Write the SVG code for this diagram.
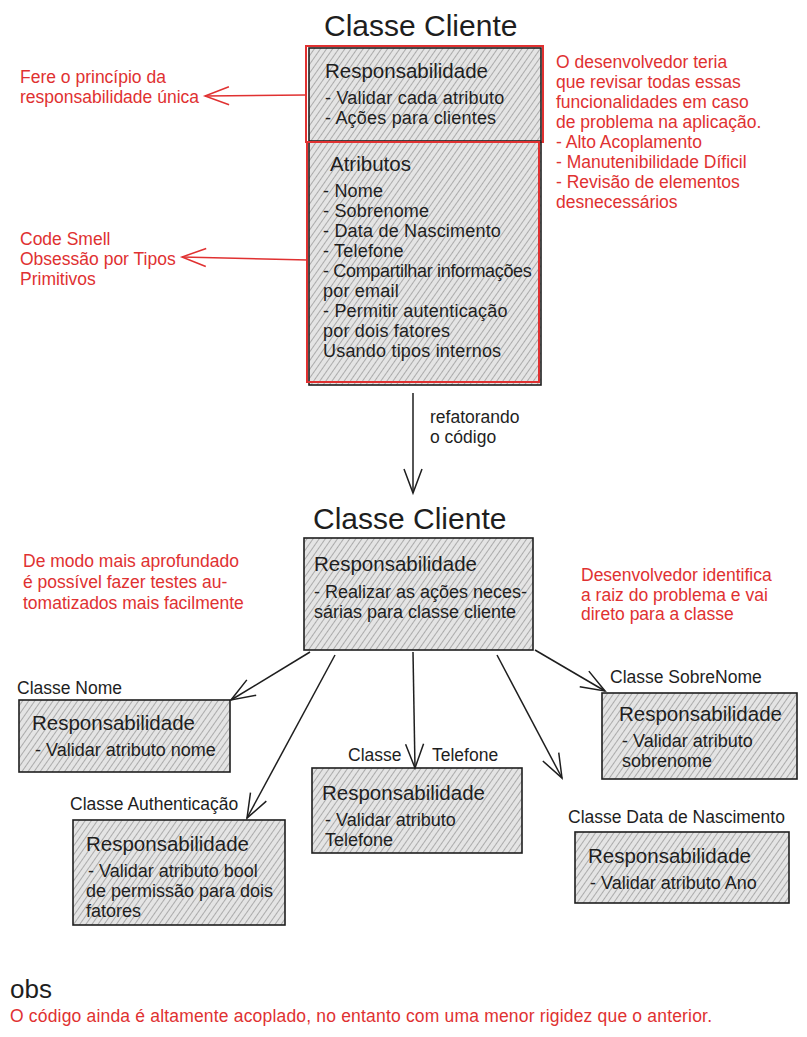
<svg xmlns="http://www.w3.org/2000/svg" width="807" height="1037" viewBox="0 0 807 1037">
<defs>
<pattern id="hatch" width="5" height="5" patternUnits="userSpaceOnUse" patternTransform="rotate(35)">
<rect width="5" height="5" fill="#e4e4e4"/>
<line x1="0" y1="0" x2="0" y2="5" stroke="#7c7c7c" stroke-width="1.1"/>
</pattern>
<marker id="ab" markerUnits="userSpaceOnUse" markerWidth="30" markerHeight="24" refX="25" refY="10" orient="auto">
<path d="M1,1 L25,10 L1,19" fill="none" stroke="#1e1e1e" stroke-width="1.5"/>
</marker>
<marker id="ar" markerUnits="userSpaceOnUse" markerWidth="30" markerHeight="24" refX="25" refY="10" orient="auto">
<path d="M1,1 L25,10 L1,19" fill="none" stroke="#e03131" stroke-width="1.5"/>
</marker>
</defs>
<style>
text{font-family:"Liberation Sans",Arial,sans-serif;fill:#1e1e1e}
.t{font-size:30px}
.h{font-size:20.5px}
.b{font-size:18px;letter-spacing:0.2px}
.l{font-size:17.5px}
.s{font-size:18px}
.r{fill:#e03131;font-size:17.5px}
.box{fill:url(#hatch);stroke:#1e1e1e;stroke-width:1.6}
.red{fill:none;stroke:#e03131;stroke-width:2}
.c{fill:none;stroke:#1e1e1e;stroke-width:1.5}
.cr{fill:none;stroke:#e03131;stroke-width:1.5}
</style>
<rect width="807" height="1037" fill="#ffffff"/>

<g id="top-class">
<text class="t" x="324" y="36">Classe Cliente</text>
<rect class="box" x="309" y="48" width="232" height="93"/>
<rect class="red" x="306" y="46" width="237" height="96"/>
<text class="h" x="325" y="78">Responsabilidade</text>
<text class="b" x="325" y="104">- Validar cada atributo</text>
<text class="b" x="325" y="124">- Ações para clientes</text>
<rect class="box" x="309" y="142" width="232" height="243"/>
<rect class="red" x="307" y="142" width="232" height="240"/>
<text class="h" x="330" y="171">Atributos</text>
<text class="b" x="323" y="197">- Nome</text>
<text class="b" x="323" y="217">- Sobrenome</text>
<text class="b" x="323" y="237">- Data de Nascimento</text>
<text class="b" x="323" y="257">- Telefone</text>
<text class="b" x="323" y="277" textLength="209">- Compartilhar informações</text>
<text class="b" x="323" y="297">por email</text>
<text class="b" x="323" y="317">- Permitir autenticação</text>
<text class="b" x="323" y="337">por dois fatores</text>
<text class="b" x="323" y="357">Usando tipos internos</text>
</g>

<g id="note-srp">
<text class="r" x="20" y="83">Fere o princípio da</text>
<text class="r" x="20" y="103">responsabilidade única</text>
</g>
<g id="note-smell">
<text class="r" x="20" y="245">Code Smell</text>
<text class="r" x="20" y="265">Obsessão por Tipos</text>
<text class="r" x="20" y="285">Primitivos</text>
</g>
<g id="note-dev">
<text class="r" x="556" y="68">O desenvolvedor teria</text>
<text class="r" x="556" y="88">que revisar todas essas</text>
<text class="r" x="556" y="108">funcionalidades em caso</text>
<text class="r" x="556" y="128">de problema na aplicação.</text>
<text class="r" x="556" y="148">- Alto Acoplamento</text>
<text class="r" x="556" y="168">- Manutenibilidade Díficil</text>
<text class="r" x="556" y="188">- Revisão de elementos</text>
<text class="r" x="556" y="208">desnecessários</text>
</g>

<g id="refactor-label">
<text class="l" x="430" y="423">refatorando</text>
<text class="l" x="430" y="443">o código</text>
</g>

<g id="main-class">
<text class="t" x="313" y="529">Classe Cliente</text>
<rect class="box" x="304" y="538" width="229" height="112"/>
<text class="h" x="314" y="571">Responsabilidade</text>
<text class="s" x="314" y="598">- Realizar as ações neces-</text>
<text class="s" x="314" y="618">sárias para classe cliente</text>
</g>

<g id="note-tests">
<text class="r" x="23" y="567">De modo mais aprofundado</text>
<text class="r" x="23" y="588">é possível fazer testes au-</text>
<text class="r" x="23" y="609">tomatizados mais facilmente</text>
</g>
<g id="note-root">
<text class="r" x="581" y="581">Desenvolvedor identifica</text>
<text class="r" x="581" y="601">a raiz do problema e vai</text>
<text class="r" x="581" y="620">direto para a classe</text>
</g>

<g id="classe-nome">
<text class="l" x="17" y="694">Classe Nome</text>
<rect class="box" x="19" y="700" width="211" height="72"/>
<text class="h" x="32" y="730">Responsabilidade</text>
<text class="s" x="35" y="756">- Validar atributo nome</text>
</g>

<g id="classe-sobrenome">
<text class="l" x="610" y="683">Classe SobreNome</text>
<rect class="box" x="602" y="693" width="195" height="86"/>
<text class="h" x="619" y="721">Responsabilidade</text>
<text class="s" x="622" y="747">- Validar atributo</text>
<text class="s" x="622" y="767">sobrenome</text>
</g>

<g id="classe-telefone">
<text class="l" x="348" y="761">Classe</text>
<text class="l" x="432" y="761">Telefone</text>
<rect class="box" x="312" y="768" width="210" height="85"/>
<text class="h" x="322" y="800">Responsabilidade</text>
<text class="s" x="325" y="826">- Validar atributo</text>
<text class="s" x="325" y="846">Telefone</text>
</g>

<g id="classe-auth">
<text class="l" x="70" y="810">Classe Authenticação</text>
<rect class="box" x="73" y="820" width="212" height="105"/>
<text class="h" x="86" y="851">Responsabilidade</text>
<text class="s" x="88" y="877">- Validar atributo bool</text>
<text class="s" x="86" y="897">de permissão para dois</text>
<text class="s" x="86" y="917">fatores</text>
</g>

<g id="classe-data">
<text class="l" x="568" y="823">Classe Data de Nascimento</text>
<rect class="box" x="575" y="832" width="214" height="71"/>
<text class="h" x="588" y="863">Responsabilidade</text>
<text class="s" x="590" y="889">- Validar atributo Ano</text>
</g>

<g id="obs">
<text x="10" y="998" style="font-size:26px">obs</text>
<text class="r" x="10" y="1022" textLength="702">O código ainda é altamente acoplado, no entanto com uma menor rigidez que o anterior.</text>
</g>

<g id="connectors">
<line class="cr" x1="306" y1="95" x2="205" y2="96" marker-end="url(#ar)"/>
<line class="cr" x1="308" y1="260" x2="182" y2="257" marker-end="url(#ar)"/>
<line class="c" x1="413" y1="393" x2="413" y2="493" marker-end="url(#ab)"/>
<line class="c" x1="310" y1="652" x2="231" y2="700" marker-end="url(#ab)"/>
<line class="c" x1="335" y1="655" x2="247" y2="818" marker-end="url(#ab)"/>
<line class="c" x1="413" y1="652" x2="415" y2="768" marker-end="url(#ab)"/>
<line class="c" x1="497" y1="655" x2="562" y2="778" marker-end="url(#ab)"/>
<line class="c" x1="535" y1="650" x2="605" y2="691" marker-end="url(#ab)"/>
</g>
</svg>
